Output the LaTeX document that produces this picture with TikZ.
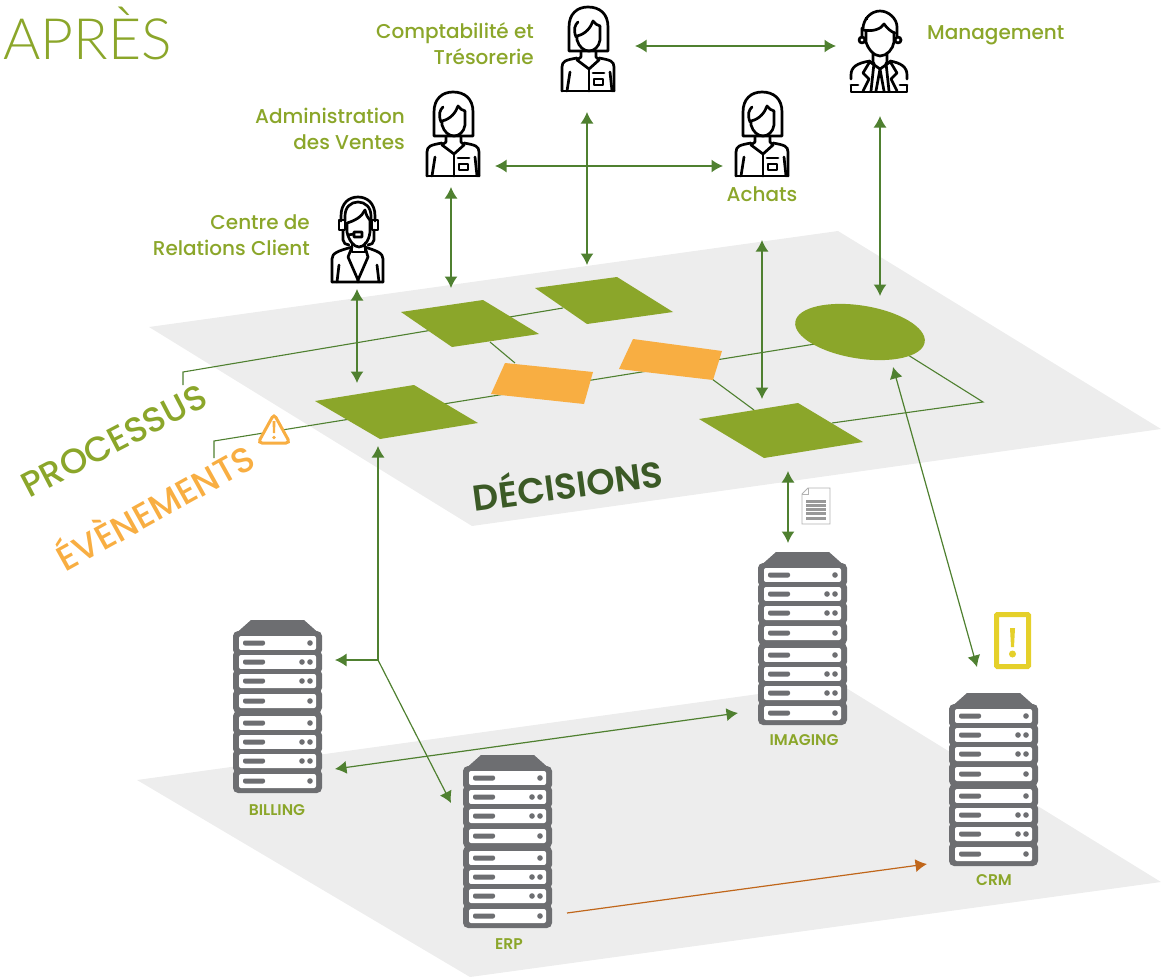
\documentclass[tikz,border=0pt]{standalone}
\usepackage{fontspec}
\usetikzlibrary{arrows.meta,shapes.geometric}
\setmainfont{Lato}
\newfontfamily\boldfont{Poppins Medium}
\newfontfamily\heavyfont{Poppins SemiBold}
\newfontfamily\thinfont{Lato Light}
\definecolor{leafGreen}{HTML}{8BA62A}
\definecolor{arrowGreen}{HTML}{4F8030}
\definecolor{darkGreen}{HTML}{3B5A26}
\definecolor{eventOrange}{HTML}{F8AE42}
\definecolor{planeGrey}{HTML}{EDEDED}
\definecolor{rackGrey}{HTML}{6D6E71}
\definecolor{alertYellow}{HTML}{E5D02A}
\definecolor{transferBrown}{HTML}{C0661A}
\tikzset{%%
  clerkPic/.pic={%%
    \draw[iconStyle] (7,44) -- (7,20) .. controls (7,7) and (15,0) .. (26,0) .. controls (38,0) and (46,7) .. (46,20) -- (46,44) -- cycle;
    \draw[iconStyle] (14,30) .. controls (11,22) and (13,18) .. (16,15);
    \draw[iconStyle] (15,29) .. controls (24,27) and (29,20) .. (31,14) .. controls (33,17) and (35,18) .. (38,19);
    \draw[iconStyle] (15,29) -- (15,33) .. controls (17,40) and (22,44) .. (27,44) .. controls (32,44) and (37,40) .. (38,33) -- (38,19);
    \draw[iconStyle] (19,44) -- (19,50) -- (15,53) -- (27,62) -- (37,53) -- (34,50) -- (34,44);
    \draw[iconStyle] (0,84) -- (0,60) .. controls (0,54) and (4,53) .. (15,51);
    \draw[iconStyle] (52,84) -- (52,60) .. controls (52,54) and (48,53) .. (37,51);
    \draw[iconStyle] (0,84) -- (52,84) (27,62) -- (27,84);
    \draw[iconStyle] (8,65) -- (5,84) (48,65) -- (50,84);
    \draw[iconStyle] (31,66) -- (42,66) (32,72) rectangle (41,78);
  },%%
  headsetPic/.pic={%%
    \draw[iconStyle] (9,24) -- (9,19) .. controls (9,6) and (17,0) .. (26,0) .. controls (35,0) and (43,6) .. (43,19) -- (43,24);
    \draw[iconStyle] (13,24) -- (13,19) .. controls (13,10) and (19,5) .. (26,5) .. controls (33,5) and (39,10) .. (39,19) -- (39,24);
    \draw[iconStyle] (7,23) rectangle (13,33) (40,23) rectangle (46,33);
    \draw[iconStyle] (15,26) .. controls (22,24) and (30,20) .. (33,13);
    \draw[iconStyle] (33,13) .. controls (34,18) and (36,21) .. (38,23);
    \draw[iconStyle] (15,26) -- (15,35) .. controls (17,44) and (22,50) .. (27,50) .. controls (32,50) and (37,44) .. (38,35) -- (38,23);
    \draw[iconStyle] (11,33) -- (11,43) .. controls (11,46) and (14,48) .. (17,48);
    \draw[iconStyle] (42,33) -- (42,43) .. controls (42,46) and (39,48) .. (36,48);
    \draw[iconStyle] (16,38) -- (22,37) (22,35) rectangle (30,40);
    \draw[iconStyle] (20,46) -- (20,54) (33,46) -- (33,54) (20,55) -- (33,55);
    \draw[iconStyle] (0,85) -- (0,62) .. controls (0,56) and (6,54) .. (20,50);
    \draw[iconStyle] (51,85) -- (51,62) .. controls (51,56) and (45,54) .. (33,50);
    \draw[iconStyle] (0,85) -- (51,85) (20,50) -- (16,60) -- (26,83) -- (36,60) -- (33,50);
    \draw[iconStyle] (26,83) -- (26,85) (7,68) -- (5,85) (45,68) -- (47,85);
  },%%
  managerPic/.pic={%%
    \draw[iconStyle] (12,18) .. controls (12,8) and (20,0) .. (29,0) .. controls (38,0) and (46,8) .. (46,16) -- (46,25);
    \draw[iconStyle] (11,17) -- (11,26) (15,7) -- (16,8);
    \draw[iconStyle] (12,19) .. controls (22,21) and (30,18) .. (33,13) .. controls (36,17) and (40,21) .. (44,22);
    \draw[iconStyle] (15,20) -- (15,31) .. controls (17,38) and (23,45) .. (29,45) .. controls (36,45) and (42,38) .. (43,31) -- (43,22);
    \draw[iconStyle] (11,29) circle [radius=3] (47,29) circle [radius=3];
    \draw[iconStyle] (22,42) -- (22,52) (36,42) -- (36,52) (19,51) -- (29,58) -- (39,51);
    \draw[iconStyle] (0,68) -- (0,64) .. controls (0,56) and (6,52) .. (19,50);
    \draw[iconStyle] (56,68) -- (56,64) .. controls (56,56) and (50,52) .. (39,50);
    \draw[iconStyle] (0,75) -- (0,81) -- (56,81) -- (56,75) (0,74) -- (7,74) (49,74) -- (56,74);
    \draw[iconStyle] (18,52) -- (12,62) -- (18,68) -- (12,80) (40,52) -- (46,62) -- (40,68) -- (46,80);
    \draw[iconStyle] (23,52) -- (20,80) (35,52) -- (38,80);
    \draw[iconStyle] (29,58) -- (25,80) (29,58) -- (33,80);
  },%%
  serverPic/.pic={%%
    \fill[rackGrey] (18,0) -- (71,0) -- (89,16) -- (0,16) -- cycle;
    \foreach \ytop/\ndots in {16/1,35/2,54/2,74/1,96/1,115/2,134/2,154/1} {%%
      \fill[rackGrey,rounded corners=5pt] (0,\ytop-5) rectangle (89,\ytop+19);
      \fill[white,rounded corners=2pt] (6,\ytop) rectangle (83,\ytop+14);
      \fill[rackGrey,rounded corners=2pt] (10,\ytop+4.5) rectangle (32,\ytop+9.5);
      \fill[rackGrey] (77,\ytop+7) circle [radius=2.8];
      \ifnum\ndots=2 \fill[rackGrey] (69,\ytop+7) circle [radius=2.8]; \fi
    }
  }%%
}

\begin{document}
\begin{tikzpicture}[%%
  x=1pt,y=-1pt,%%
  iconStyle/.style={black,line width=2.7pt,line join=round,line cap=round},%%
  arrowStyle/.style={<->,>={Latex[length=11.5pt,width=13pt]},arrowGreen,line width=1.5pt},%%
  pathStyle/.style={->,>={Latex[length=11.5pt,width=13pt]},arrowGreen,line width=1.2pt},%%
  lineStyle/.style={arrowGreen,line width=1.1pt},%%
  labelStyle/.style={leafGreen,font=\boldfont\fontsize{20}{26}\selectfont,align=right,anchor=east,inner sep=0pt},%%
  serverLabel/.style={leafGreen,font=\heavyfont\fontsize{15.5}{16}\selectfont,inner sep=0pt},%%
  tiltLabel/.style={font=\boldfont\fontsize{35}{38}\selectfont,inner sep=0pt},%%
  decisionStyle/.style={fill=leafGreen},%%
  eventStyle/.style={fill=eventOrange}%%
]
\useasboundingbox (0,0) rectangle (1161,977);
%%
%% Draw the two planes.
\fill[planeGrey] (149,327) -- (838,231) -- (1161,429) -- (472,526) -- cycle;
\fill[planeGrey] (137,780) -- (838,683) -- (1161,882) -- (470,977) -- cycle;
%%
%% Free ends of the thin process lines.
\coordinate (processFoot) at (183,385);
\coordinate (processCorner) at (183,372);
\coordinate (processEnd) at (563,308);
\coordinate (eventFoot) at (214,458);
\coordinate (eventCorner) at (214,441);
\coordinate (eventEnd) at (815,344);
\coordinate (boxLinkA) at (490,342);
\coordinate (boxLinkB) at (515,363);
\coordinate (boxLinkC) at (712,379);
\coordinate (boxLinkD) at (754,410);
\coordinate (loopStart) at (832,423);
\coordinate (loopCorner) at (983,402);
\coordinate (loopEnd) at (908,355);
\draw[lineStyle] (processFoot) -- (processCorner) -- (processEnd);
\draw[lineStyle] (eventFoot) -- (eventCorner) -- (eventEnd);
\draw[lineStyle] (boxLinkA) -- (boxLinkB);
\draw[lineStyle] (boxLinkC) -- (boxLinkD);
\draw[lineStyle] (loopStart) -- (loopCorner) -- (loopEnd);
%%
%% Draw the shapes on the upper plane.
\fill[decisionStyle] (401,312) -- (483,300) -- (539,334) -- (452,347) -- cycle;
\fill[decisionStyle] (535,288) -- (617,277) -- (673,312) -- (587,324) -- cycle;
\fill[decisionStyle] (315,401) -- (414,385) -- (478,423) -- (380,439) -- cycle;
\fill[decisionStyle] (699,419) -- (798,403) -- (863,442) -- (764,458) -- cycle;
\fill[eventStyle] (505,363) -- (593,372) -- (584,404) -- (491,394) -- cycle;
\fill[eventStyle] (633,339) -- (722,351) -- (713,380) -- (619,369) -- cycle;
\node[ellipse,decisionStyle,minimum width=131pt,minimum height=53pt,inner sep=0pt,rotate=-9] (choice) at (860,332) {};
%%
%% Draw the people.
\pic (salesPerson) at (427,92) {clerkPic};
\pic (financePerson) at (562,7) {clerkPic};
\pic (buyerPerson) at (736,92) {clerkPic};
\pic (callPerson) at (332,197) {headsetPic};
\pic (bossPerson) at (851,11) {managerPic};
\node[labelStyle] (financeLabel) at (534,44) {Comptabilité et\\Trésorerie};
\node[labelStyle] (salesLabel) at (405,129) {Administration\\des Ventes};
\node[labelStyle] (callLabel) at (310,235) {Centre de\\Relations Client};
\node[labelStyle,anchor=center] (buyerLabel) at (762,194) {Achats};
\node[labelStyle,anchor=west] (bossLabel) at (927,35) {Management};
%%
%% Draw the servers.
\pic (billingRack) at (233,620) {serverPic};
\pic (imagingRack) at (758,552) {serverPic};
\pic (erpRack) at (463,755) {serverPic};
\pic (crmRack) at (949,693) {serverPic};
\node[serverLabel] (billingLabel) at (277,810) {BILLING};
\node[serverLabel] (imagingLabel) at (804,740) {IMAGING};
\node[serverLabel] (erpLabel) at (509,944) {ERP};
\node[serverLabel] (crmLabel) at (994,880) {CRM};
%%
%% Draw the small icons.
\draw[white,fill=white] (257,443) -- (273,413) -- (291,443) -- cycle;
\draw[eventOrange,line width=3pt,rounded corners=4pt] (258,443) -- (274,414) -- (290,443) -- cycle;
\fill[eventOrange] (272.5,421) -- (275.5,421) -- (275,433) -- (273,433) -- cycle;
\fill[eventOrange] (274,437.5) circle [radius=1.8];
\draw[black!30,fill=white,line width=0.8pt] (808,488) -- (830,488) -- (830,524) -- (802,524) -- (802,494) -- cycle;
\draw[black!30,line width=0.8pt] (802,494) -- (808,494) -- (808,488);
\foreach \yline in {501,505,509,513,518} {%%
  \draw[black!40,line width=3pt] (806,\yline) -- (826,\yline);
}
\draw[alertYellow,fill=white,line width=5pt,rounded corners=1pt] (996.5,614.5) rectangle (1028.5,666.5);
\fill[alertYellow] (1010,628) -- (1015,628) -- (1014,647) -- (1011,647) -- cycle;
\fill[alertYellow] (1012.5,654) circle [radius=3.5];
%%
%% Free ends of the arrows.
\coordinate (financeEast) at (635,46);
\coordinate (bossWest) at (836,46);
\coordinate (financeSouth) at (587,112);
\coordinate (planeFinance) at (587,265);
\coordinate (salesEast) at (495,166);
\coordinate (buyerWest) at (723,166);
\coordinate (salesSouth) at (451,187);
\coordinate (planeSales) at (451,288);
\coordinate (callSouth) at (357,289);
\coordinate (planeCall) at (357,383);
\coordinate (bossSouth) at (880,116);
\coordinate (planeBoss) at (880,296);
\coordinate (buyerSouth) at (762,240);
\coordinate (planeBuyer) at (762,399);
\coordinate (planeImaging) at (788,471);
\coordinate (imagingNorth) at (788,543);
\coordinate (planeCrm) at (893,367);
\coordinate (crmNorth) at (977,667);
\coordinate (planeErp) at (378,446);
\coordinate (splitPoint) at (378,660);
\coordinate (billingEast) at (335,660);
\coordinate (erpWest) at (451,803);
\coordinate (billingLow) at (335,769);
\coordinate (imagingWest) at (738,713);
\coordinate (erpEast) at (567,913);
\coordinate (crmWest) at (927,864);
\draw[arrowStyle] (financeEast) -- (bossWest);
\draw[arrowStyle] (financeSouth) -- (planeFinance);
\draw[arrowStyle] (salesEast) -- (buyerWest);
\draw[arrowStyle] (salesSouth) -- (planeSales);
\draw[arrowStyle] (callSouth) -- (planeCall);
\draw[arrowStyle] (bossSouth) -- (planeBoss);
\draw[arrowStyle] (buyerSouth) -- (planeBuyer);
\draw[arrowStyle] (planeImaging) -- (imagingNorth);
\draw[arrowStyle,line width=1.2pt] (planeCrm) -- (crmNorth);
\draw[arrowStyle,line width=1.2pt] (billingLow) -- (imagingWest);
\draw[pathStyle] (splitPoint) -- (planeErp);
\draw[pathStyle] (splitPoint) -- (billingEast);
\draw[pathStyle] (splitPoint) -- (erpWest);
\draw[pathStyle,transferBrown] (erpEast) -- (crmWest);
%%
%% The big titles.
\node[leafGreen,font=\thinfont\fontsize{57}{60}\selectfont,anchor=west,inner sep=0pt] (afterTitle) at (3,33) {APRÈS};
\node[tiltLabel,darkGreen,font=\heavyfont\fontsize{36}{38}\selectfont,rotate=7.5] (decisionTitle) at (567,482) {DÉCISIONS};
\node[tiltLabel,leafGreen,rotate=27.5] (processTitle) at (114,441) {PROCESSUS};
\node[tiltLabel,eventOrange,rotate=29] (eventTitle) at (154,505) {ÉVÈNEMENTS};
\end{tikzpicture}
\end{document}
